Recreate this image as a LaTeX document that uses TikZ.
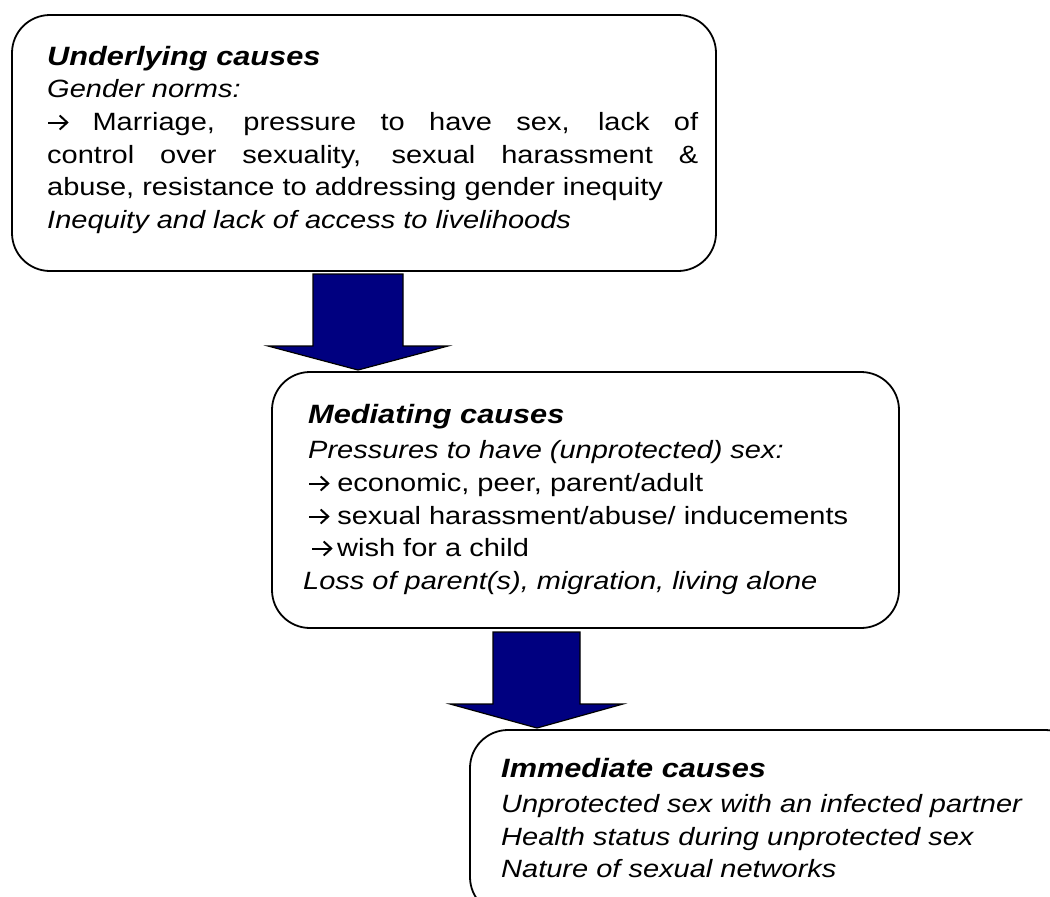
\documentclass[tikz,border=0pt]{standalone}
\usepackage{fontspec}
\setmainfont{Liberation Sans}[FakeStretch=1.16]
\definecolor{arrowblue}{RGB}{0,0,128}
\newcommand{\rarr}{\tikz[x=1pt,y=1pt,baseline=0pt]{\draw[line width=2pt, line cap=butt] (0.5,7.5) -- (19,7.5); \draw[line width=2pt, line join=miter, line cap=butt] (12,14.5) -- (19.5,7.5) -- (12,0.5);}}
\tikzset{
  box/.style={draw=black, line width=1.8pt, fill=white, rounded corners=38pt, anchor=north west, inner sep=0pt, outer sep=0pt},
  ttl/.style={font=\fontsize{26.5}{30}\selectfont\bfseries\itshape, anchor=base west, inner sep=0pt},
  txt/.style={font=\fontsize{25}{30}\selectfont, anchor=base west, inner sep=0pt},
  itx/.style={font=\fontsize{25}{30}\selectfont\itshape, anchor=base west, inner sep=0pt},
  blockarrow/.style={fill=arrowblue, draw=black, line width=1.2pt, line join=miter}
}
\begin{document}
\begin{tikzpicture}[x=1pt,y=-1pt]
\useasboundingbox (0,0) rectangle (1050,897);
\begin{scope}
\clip (0,0) rectangle (1050,897);
% boxes
\node[box, minimum width=704pt, minimum height=256pt] (b1) at (12,15) {};
\node[box, minimum width=627pt, minimum height=256pt] (b2) at (272,372) {};
\node[box, minimum width=613pt, minimum height=185pt] (b3) at (470,730) {};
% block arrows
\draw[blockarrow] (313,274) -- (403,274) -- (403,346) -- (448,346) -- (358,370) -- (268,346) -- (313,346) -- cycle;
\draw[blockarrow] (493,632) -- (580,632) -- (580,704) -- (623,704) -- (537,728) -- (450,704) -- (493,704) -- cycle;
\end{scope}
% box 1 text
\node[ttl] (t1) at (47,65) {Underlying causes};
\node[itx] (t1a) at (47,97) {Gender norms:};
\node[txt] (t1b) at (47,130) {\makebox[651pt][s]{\rarr{} Marriage, pressure to have sex, lack of}};
\node[txt] (t1c) at (47,163) {\makebox[651pt][s]{control over sexuality, sexual harassment \&}};
\node[txt] (t1d) at (47,195) {abuse, resistance to addressing gender inequity};
\node[itx] (t1e) at (47,228) {Inequity and lack of access to livelihoods};
% box 2 text
\node[ttl] (t2) at (308,423) {Mediating causes};
\node[itx] (t2a) at (308,458) {Pressures to have (unprotected) sex:};
\node[txt] (t2b) at (308,491) {\rarr{} economic, peer, parent/adult};
\node[txt] (t2c) at (308,524) {\rarr{} sexual harassment/abuse/ inducements};
\node[txt] (t2d) at (311,556) {\rarr\hspace{5pt}wish for a child};
\node[itx] (t2e) at (303,589) {Loss of parent(s), migration, living alone};
% box 3 text
\node[ttl] (t3) at (501,777) {Immediate causes};
\node[itx] (t3a) at (501,812) {Unprotected sex with an infected partner};
\node[itx] (t3b) at (501,845) {Health status during unprotected sex};
\node[itx] (t3c) at (501,877) {Nature of sexual networks};
\end{tikzpicture}
\end{document}
